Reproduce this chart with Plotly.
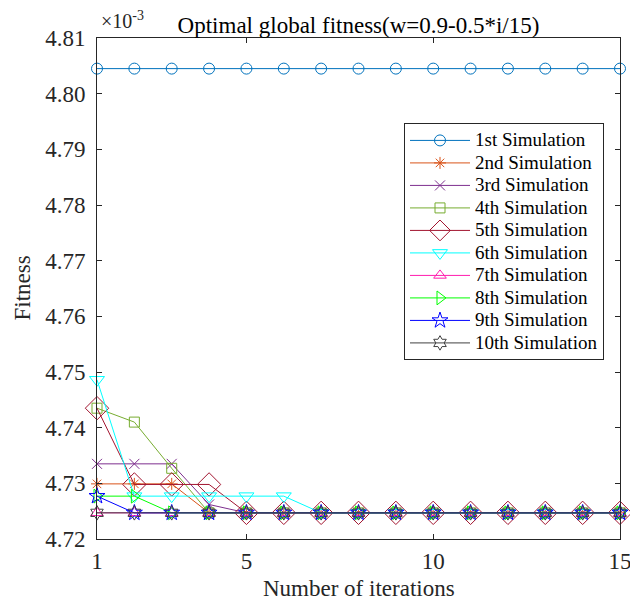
import plotly.graph_objects as go

# Iteration index
iterations = list(range(1, 16))

# Optimal global fitness per simulation (units of 1e-3)
sim1 = [4.8045] * 15
sim2 = [4.7299, 4.7299, 4.7299] + [4.7247] * 12
sim3 = [4.7335, 4.7335, 4.7335, 4.7262] + [4.7247] * 11
sim4 = [4.7435, 4.7410, 4.7327] + [4.7247] * 12
sim5 = [4.7435, 4.7298, 4.7298, 4.7298] + [4.7247] * 11
sim6 = [4.7486, 4.7277, 4.7277, 4.7277, 4.7277, 4.7277] + [4.7247] * 9
sim7 = [4.7247] * 15
sim8 = [4.7277, 4.7277] + [4.7247] * 13
sim9 = [4.7277] + [4.7247] * 14
sim10 = [4.7247] * 15

series = [sim1, sim2, sim3, sim4, sim5, sim6, sim7, sim8, sim9, sim10]
names = ["1st Simulation", "2nd Simulation", "3rd Simulation", "4th Simulation",
         "5th Simulation", "6th Simulation", "7th Simulation", "8th Simulation",
         "9th Simulation", "10th Simulation"]
colors = ["#0072BD", "#D95319", "#7E2F8E", "#77AC30", "#A2142F",
          "#00FFFF", "#FF1CAE", "#00FF00", "#0000FF", "#404040"]
symbols = ["circle-open", "asterisk-open", "x-thin-open", "square-open", "diamond-open",
           "triangle-down-open", "triangle-up-open", "triangle-right-open",
           "star-open", "hexagram-open"]
sizes = [11, 10, 10, 10, 18, 13, 11, 12, 12, 11]

y_ticks = [4.72, 4.73, 4.74, 4.75, 4.76, 4.77, 4.78, 4.79, 4.80, 4.81]
x_ticks = [1, 5, 10, 15]

FONT = "Liberation Serif, Times New Roman, serif"
AXC = "#262626"

fig = go.Figure()
for ys, nm, c, s, sz in zip(series, names, colors, symbols, sizes):
    fig.add_trace(go.Scatter(
        x=iterations, y=ys, mode="lines+markers",
        # legend rows stay compact while the label text is drawn larger
        name=f'<span style="font-size:19px">{nm}</span>',
        line=dict(color=c, width=1),
        marker=dict(symbol=s, size=sz, color=c, line=dict(color=c, width=1)),
        cliponaxis=False,
    ))

fig.update_layout(
    width=630, height=600,
    margin=dict(l=97, r=10, t=38, b=61),
    paper_bgcolor="white", plot_bgcolor="white",
    font=dict(family=FONT, size=22, color=AXC),
    title=dict(text="Optimal global fitness(w=0.9-0.5*i/15)",
               x=0.5, xref="paper", xanchor="center",
               y=1 - 25 / 600, yref="container", yanchor="middle",
               font=dict(family=FONT, size=23, color="#000000")),
    xaxis=dict(
        range=[1, 15], tickvals=x_ticks, ticktext=[str(v) for v in x_ticks],
        ticks="inside", ticklen=5, tickcolor=AXC, ticklabelstandoff=1,
        ticklabeloverflow="allow", automargin=False,
        showline=True, linecolor=AXC, linewidth=1, mirror="ticks",
        showgrid=False, zeroline=False,
        tickfont=dict(family=FONT, size=23, color=AXC),
    ),
    yaxis=dict(
        range=[4.72, 4.81], tickvals=y_ticks, ticktext=[f"{v:.2f}" for v in y_ticks],
        ticks="inside", ticklen=5, tickcolor=AXC, ticklabelstandoff=6,
        automargin=False,
        showline=True, linecolor=AXC, linewidth=1, mirror="ticks",
        showgrid=False, zeroline=False,
        tickfont=dict(family=FONT, size=23, color=AXC),
    ),
    legend=dict(
        x=0.587, y=0.83, xanchor="left", yanchor="top",
        bgcolor="white", bordercolor=AXC, borderwidth=1,
        font=dict(family=FONT, size=15, color="#000000"),
        itemwidth=60, tracegroupgap=0,
    ),
    showlegend=True,
)

# Axis titles
fig.add_annotation(
    text="Number of iterations", xref="paper", yref="paper",
    x=0.5, y=0, xanchor="center", yanchor="middle", yshift=-49, showarrow=False,
    font=dict(family=FONT, size=23, color=AXC),
)
fig.add_annotation(
    text="Fitness", xref="paper", yref="paper", textangle=-90,
    x=0, y=0.5, xanchor="center", yanchor="middle", xshift=-75, showarrow=False,
    font=dict(family=FONT, size=23, color=AXC),
)

# Exponent of the y-axis values
fig.add_annotation(
    text="×10<sup>-3</sup>", xref="paper", yref="paper",
    x=0, y=1, xanchor="left", yanchor="bottom", xshift=2, yshift=4, showarrow=False,
    font=dict(family=FONT, size=20, color=AXC),
)

fig.write_html("out.html")
